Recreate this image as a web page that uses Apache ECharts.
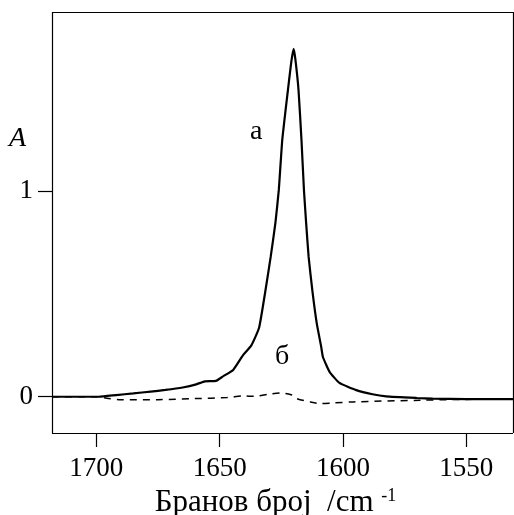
<!DOCTYPE html>
<html>
<head>
<meta charset="utf-8">
<script src="https://cdn.jsdelivr.net/npm/echarts@6/dist/echarts.min.js"></script>
<style>html,body{margin:0;padding:0;background:#fff}#c{width:514px;height:515px}</style>
</head>
<body>
<div id="c"></div>
<script>
// wavenumber (cm^-1) and absorbance, curve "а"
const waveA = [1718, 1710, 1699, 1692, 1685, 1678, 1672, 1665, 1659.5, 1656, 1651.5, 1648.5, 1644.5, 1640.5, 1637.2, 1634.0, 1631.4, 1629.3, 1627.4, 1626.0, 1624.6, 1622.3, 1621.0, 1620.0, 1619.3, 1618.0, 1616.8, 1615.8, 1614.9, 1613.9, 1612.4, 1610.6, 1608.8, 1608.1, 1605.4, 1601.4, 1594.6, 1588, 1582.5, 1570, 1563.6, 1550, 1531];
const valsA = [0.000, 0.000, 0.000, 0.008, 0.016, 0.025, 0.033, 0.045, 0.060, 0.075, 0.077, 0.100, 0.130, 0.202, 0.248, 0.335, 0.517, 0.679, 0.842, 1.004, 1.246, 1.489, 1.62, 1.689, 1.64, 1.489, 1.246, 1.004, 0.842, 0.679, 0.517, 0.356, 0.242, 0.193, 0.121, 0.067, 0.032, 0.012, 0.002, -0.006, -0.009, -0.012, -0.012];
// curve "б" (dashed)
const waveB = [1718, 1700, 1695, 1690, 1675, 1660, 1647, 1640, 1636.2, 1630, 1625.4, 1621, 1618.7, 1613, 1609.2, 1604, 1595.7, 1568.7, 1541.8, 1531];
const valsB = [0.000, 0.000, -0.008, -0.014, -0.014, -0.009, -0.004, 0.004, 0.002, 0.012, 0.018, 0.010, -0.009, -0.026, -0.033, -0.030, -0.025, -0.017, -0.012, -0.012];
const xTicks = [1700, 1650, 1600, 1550];
const yTicks = [0, 1];
// plotted frame range; the value axis extends a little below the frame so ticks fit under it
const xMin = 1531, xMax = 1718, frameBottom = -0.176, yMax = 1.868, yMin = -0.244;

const serif = 'Liberation Serif, DejaVu Serif, serif';
const seg = (a, b) => [{coord: a}, {coord: b}];
const frameLines = [
  seg([xMax, frameBottom], [xMin, frameBottom]),
  seg([xMax, yMax], [xMin, yMax]),
  seg([xMax, frameBottom], [xMax, yMax]),
  seg([xMin, frameBottom], [xMin, yMax])
].concat(xTicks.map(v => seg([v, frameBottom], [v, yMin])));

const chart = echarts.init(document.getElementById('c'), null, {renderer: 'canvas'});
chart.setOption({
  backgroundColor: '#fff',
  animation: false,
  grid: {left: 52, right: 1, top: 12, bottom: 68, outerBoundsMode: 'none', containLabel: false, show: false},
  xAxis: {
    type: 'value', inverse: true, min: xMin, max: xMax, position: 'bottom',
    axisLine: {show: false, onZero: false},
    axisTick: {show: false},
    axisLabel: {customValues: xTicks, margin: 8, color: '#000', fontFamily: serif, fontSize: 27,
                formatter: v => String(v)},
    splitLine: {show: false},
    name: 'Бранов број  /cm {sup|-1}',
    nameLocation: 'middle', nameGap: 30,
    nameTextStyle: {color: '#000', fontFamily: serif, fontSize: 31, padding: [0, 14, 0, 0],
      rich: {sup: {fontFamily: serif, fontSize: 18, verticalAlign: 'top', padding: [0, 0, 12, 0], color: '#000'}}}
  },
  yAxis: {
    type: 'value', min: yMin, max: yMax, position: 'left',
    axisLine: {show: false, onZero: false},
    axisTick: {show: true, length: 14, customValues: yTicks, lineStyle: {color: '#000', width: 1.2}},
    axisLabel: {customValues: yTicks, margin: 19, color: '#000', fontFamily: serif, fontSize: 27,
                formatter: v => String(v)},
    splitLine: {show: false}
  },
  graphic: [
    {type: 'text', left: 9, top: 125, style: {text: 'A', font: 'italic 28px ' + serif, fill: '#000'}},
    {type: 'text', left: 250, top: 118, style: {text: 'а', font: '28px ' + serif, fill: '#000'}},
    {type: 'text', left: 275, top: 343, style: {text: 'б', font: '28px ' + serif, fill: '#000'}}
  ],
  series: [
    {type: 'line', data: waveA.map((w, i) => [w, valsA[i]]), showSymbol: false, smooth: 0.15, clip: false,
     lineStyle: {color: '#000', width: 2.2},
     markLine: {silent: true, symbol: ['none', 'none'], animation: false, label: {show: false},
                lineStyle: {color: '#000', width: 1.2, type: 'solid'},
                emphasis: {disabled: true}, data: frameLines}},
    {type: 'line', data: waveB.map((w, i) => [w, valsB[i]]), showSymbol: false, smooth: 0.3,
     lineStyle: {color: '#000', width: 1.5, type: [7, 6]}}
  ]
});
</script>
</body>
</html>
